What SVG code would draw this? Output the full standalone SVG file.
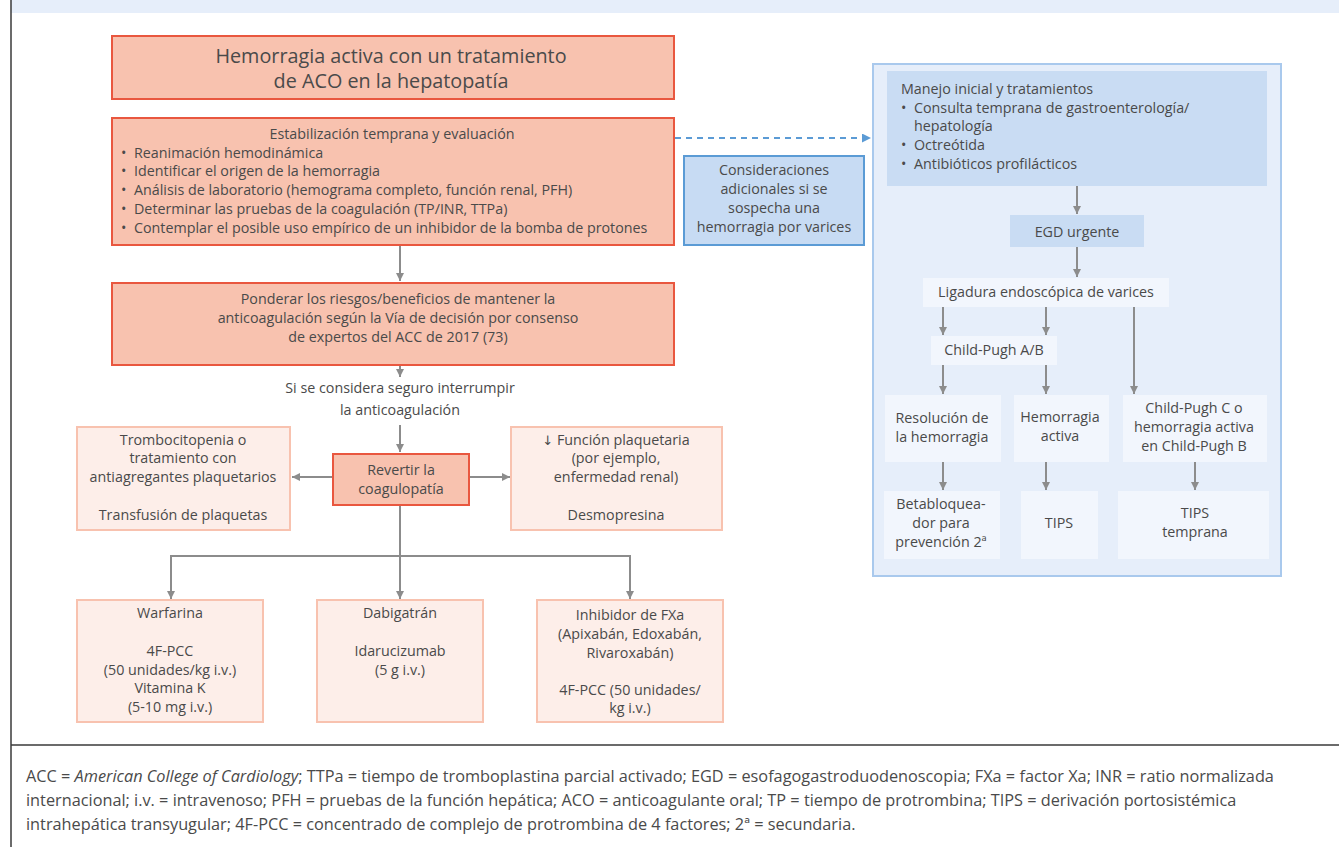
<svg xmlns="http://www.w3.org/2000/svg" width="1339" height="847" viewBox="0 0 1339 847">
<defs>
<style>
text{font-family:"Open Sans","Noto Sans","Liberation Sans",sans-serif;fill:#4a4a4a;font-size:14.3px}
.c{text-anchor:middle}
.t{font-size:19.8px}
.f{font-size:16.3px}
.sal{fill:#f8c2af;stroke:#e9573f;stroke-width:2}
.pink{fill:#fdeee9;stroke:#f8c2af;stroke-width:2}
.blue{fill:#c7dbf3;stroke:#5b9bd5;stroke-width:2}
.panel{fill:#e6eefa;stroke:#a9c9ed;stroke-width:2}
.mid{fill:#c9dcf3}
.lt{fill:#f2f6fd}
.ar{stroke:#8c8c8c;stroke-width:2;fill:none}
.ln{stroke:#8c8c8c;stroke-width:2;fill:none}
.da{stroke:#5b9bd5;stroke-width:2;fill:none;stroke-dasharray:6 5}
</style>
<marker id="ah" viewBox="0 0 10 10" refX="10" refY="5" markerWidth="8" markerHeight="9" markerUnits="userSpaceOnUse" orient="auto"><path d="M0,0L10,5L0,10z" fill="#8c8c8c"/></marker>
<marker id="ahb" viewBox="0 0 10 10" refX="10" refY="5" markerWidth="10" markerHeight="9" markerUnits="userSpaceOnUse" orient="auto"><path d="M0,0L10,5L0,10z" fill="#5b9bd5"/></marker>
</defs>
<rect x="0" y="0" width="1339" height="847" fill="#ffffff"/>
<rect x="11" y="0" width="1328" height="13" fill="#e6eefa"/>
<line x1="11" y1="0" x2="11" y2="847" stroke="#3a3a3a" stroke-width="1.5"/>
<line x1="11" y1="745" x2="1339" y2="745" stroke="#3a3a3a" stroke-width="1.5"/>

<g id="panel"><rect class="panel" x="873" y="64" width="408" height="512"/></g>

<g id="connectors">
<line class="ar" x1="400" y1="246" x2="400" y2="281" marker-end="url(#ah)"/>
<line class="ar" x1="400" y1="366" x2="400" y2="377" marker-end="url(#ah)"/>
<line class="ar" x1="400" y1="425" x2="400" y2="452" marker-end="url(#ah)"/>
<line class="ar" x1="332" y1="477" x2="292" y2="477" marker-end="url(#ah)"/>
<line class="ar" x1="469" y1="477" x2="510" y2="477" marker-end="url(#ah)"/>
<line class="ln" x1="400" y1="506" x2="400" y2="556"/>
<line class="ln" x1="171" y1="556" x2="630" y2="556"/>
<line class="ar" x1="171" y1="555" x2="171" y2="599" marker-end="url(#ah)"/>
<line class="ar" x1="400" y1="556" x2="400" y2="599" marker-end="url(#ah)"/>
<line class="ar" x1="630" y1="555" x2="630" y2="599" marker-end="url(#ah)"/>
<line class="da" x1="675" y1="138" x2="871" y2="138" marker-end="url(#ahb)"/>
<line class="ar" x1="1077" y1="186" x2="1077" y2="214" marker-end="url(#ah)"/>
<line class="ar" x1="1077" y1="247" x2="1077" y2="277" marker-end="url(#ah)"/>
<line class="ar" x1="943" y1="307" x2="943" y2="335" marker-end="url(#ah)"/>
<line class="ar" x1="1046" y1="307" x2="1046" y2="335" marker-end="url(#ah)"/>
<line class="ar" x1="1134" y1="307" x2="1134" y2="394" marker-end="url(#ah)"/>
<line class="ar" x1="943" y1="365" x2="943" y2="394" marker-end="url(#ah)"/>
<line class="ar" x1="1046" y1="365" x2="1046" y2="394" marker-end="url(#ah)"/>
<line class="ar" x1="943" y1="462" x2="943" y2="490" marker-end="url(#ah)"/>
<line class="ar" x1="1046" y1="462" x2="1046" y2="490" marker-end="url(#ah)"/>
<line class="ar" x1="1195" y1="462" x2="1195" y2="490" marker-end="url(#ah)"/>
</g>

<g id="n-title"><rect class="sal" x="112" y="36" width="562" height="63"/>
<text class="c t" x="391" y="63">Hemorragia activa con un tratamiento</text>
<text class="c t" x="391" y="88">de ACO en la hepatopatía</text></g>

<g id="n-estab"><rect class="sal" x="112" y="118" width="562" height="127"/>
<text class="c" x="392" y="139">Estabilización temprana y evaluación</text>
<text x="121" y="158">•</text><text x="134" y="158">Reanimación hemodinámica</text>
<text x="121" y="176">•</text><text x="134" y="176">Identificar el origen de la hemorragia</text>
<text x="121" y="195">•</text><text x="134" y="195">Análisis de laboratorio (hemograma completo, función renal, PFH)</text>
<text x="121" y="214">•</text><text x="134" y="214">Determinar las pruebas de la coagulación (TP/INR, TTPa)</text>
<text x="121" y="233">•</text><text x="134" y="233">Contemplar el posible uso empírico de un inhibidor de la bomba de protones</text></g>

<g id="n-ponderar"><rect class="sal" x="112" y="283" width="562" height="82"/>
<text class="c" x="398" y="304">Ponderar los riesgos/beneficios de mantener la</text>
<text class="c" x="398" y="323">anticoagulación según la Vía de decisión por consenso</text>
<text class="c" x="398" y="342">de expertos del ACC de 2017 (73)</text></g>

<g id="n-si"><text class="c" x="400" y="393">Si se considera seguro interrumpir</text>
<text class="c" x="400" y="415">la anticoagulación</text></g>

<g id="n-revertir"><rect class="sal" x="333" y="454" width="136" height="51"/>
<text class="c" x="401" y="475">Revertir la</text>
<text class="c" x="401" y="494">coagulopatía</text></g>

<g id="n-trombo"><rect class="pink" x="77" y="427" width="213" height="103"/>
<text class="c" x="183" y="445">Trombocitopenia o</text>
<text class="c" x="183" y="463">tratamiento con</text>
<text class="c" x="183" y="482">antiagregantes plaquetarios</text>
<text class="c" x="183" y="520">Transfusión de plaquetas</text></g>

<g id="n-funcion"><rect class="pink" x="511" y="427" width="211" height="103"/>
<text class="c" x="616" y="445"><tspan font-family="'DejaVu Sans',sans-serif" font-size="13">↓</tspan> Función plaquetaria</text>
<text class="c" x="616" y="463">(por ejemplo,</text>
<text class="c" x="616" y="482">enfermedad renal)</text>
<text class="c" x="616" y="520">Desmopresina</text></g>

<g id="n-warfarina"><rect class="pink" x="77" y="600" width="186" height="122"/>
<text class="c" x="170" y="618">Warfarina</text>
<text class="c" x="170" y="656">4F-PCC</text>
<text class="c" x="170" y="675">(50 unidades/kg i.v.)</text>
<text class="c" x="170" y="693">Vitamina K</text>
<text class="c" x="170" y="712">(5-10 mg i.v.)</text></g>

<g id="n-dabigatran"><rect class="pink" x="317" y="600" width="166" height="122"/>
<text class="c" x="400" y="618">Dabigatrán</text>
<text class="c" x="400" y="656">Idarucizumab</text>
<text class="c" x="400" y="675">(5 g i.v.)</text></g>

<g id="n-fxa"><rect class="pink" x="537" y="600" width="186" height="122"/>
<text class="c" x="630" y="620">Inhibidor de FXa</text>
<text class="c" x="630" y="639">(Apixabán, Edoxabán,</text>
<text class="c" x="630" y="658">Rivaroxabán)</text>
<text class="c" x="630" y="695">4F-PCC (50 unidades/</text>
<text class="c" x="630" y="713">kg i.v.)</text></g>

<g id="n-consid"><rect class="blue" x="684" y="156" width="180" height="89"/>
<text class="c" x="774" y="175">Consideraciones</text>
<text class="c" x="774" y="194">adicionales si se</text>
<text class="c" x="774" y="213">sospecha una</text>
<text class="c" x="774" y="232">hemorragia por varices</text></g>

<g id="n-manejo"><rect class="mid" x="887" y="71" width="380" height="115"/>
<text x="901" y="94">Manejo inicial y tratamientos</text>
<text x="901" y="113">•</text><text x="914" y="113">Consulta temprana de gastroenterología/</text>
<text x="914" y="131">hepatología</text>
<text x="901" y="150">•</text><text x="914" y="150">Octreótida</text>
<text x="901" y="169">•</text><text x="914" y="169">Antibióticos profilácticos</text></g>

<g id="n-egd"><rect class="mid" x="1010" y="215" width="134" height="32"/>
<text class="c" x="1077" y="237">EGD urgente</text></g>

<g id="n-ligadura"><rect class="lt" x="923" y="278" width="246" height="29"/>
<text class="c" x="1046" y="297">Ligadura endoscópica de varices</text></g>

<g id="n-cpab"><rect class="lt" x="931" y="336" width="126" height="29"/>
<text class="c" x="994" y="355">Child-Pugh A/B</text></g>

<g id="n-resol"><rect class="lt" x="885" y="395" width="116" height="67"/>
<text class="c" x="942" y="423">Resolución de</text>
<text class="c" x="942" y="442">la hemorragia</text></g>

<g id="n-hemact"><rect class="lt" x="1014" y="395" width="95" height="67"/>
<text class="c" x="1060" y="422">Hemorragia</text>
<text class="c" x="1060" y="441">activa</text></g>

<g id="n-cpc"><rect class="lt" x="1123" y="395" width="144" height="67"/>
<text class="c" x="1194" y="413">Child-Pugh C o</text>
<text class="c" x="1194" y="432">hemorragia activa</text>
<text class="c" x="1194" y="451">en Child-Pugh B</text></g>

<g id="n-beta"><rect class="lt" x="884" y="491" width="116" height="68"/>
<text class="c" x="941" y="509">Betabloquea-</text>
<text class="c" x="941" y="528">dor para</text>
<text class="c" x="941" y="547">prevención 2ª</text></g>

<g id="n-tips"><rect class="lt" x="1021" y="491" width="77" height="68"/>
<text class="c" x="1059" y="528">TIPS</text></g>

<g id="n-tipst"><rect class="lt" x="1118" y="491" width="151" height="68"/>
<text class="c" x="1195" y="518">TIPS</text>
<text class="c" x="1195" y="537">temprana</text></g>

<g id="footer">
<text class="f" x="26" y="782">ACC = <tspan font-style="italic">American College of Cardiology</tspan>; TTPa = tiempo de tromboplastina parcial activado; EGD = esofagogastroduodenoscopia; FXa = factor Xa; INR = ratio normalizada</text>
<text class="f" x="26" y="806">internacional; i.v. = intravenoso; PFH = pruebas de la función hepática; ACO = anticoagulante oral; TP = tiempo de protrombina; TIPS = derivación portosistémica</text>
<text class="f" x="26" y="830">intrahepática transyugular; 4F-PCC = concentrado de complejo de protrombina de 4 factores; 2ª = secundaria.</text>
</g>
</svg>
